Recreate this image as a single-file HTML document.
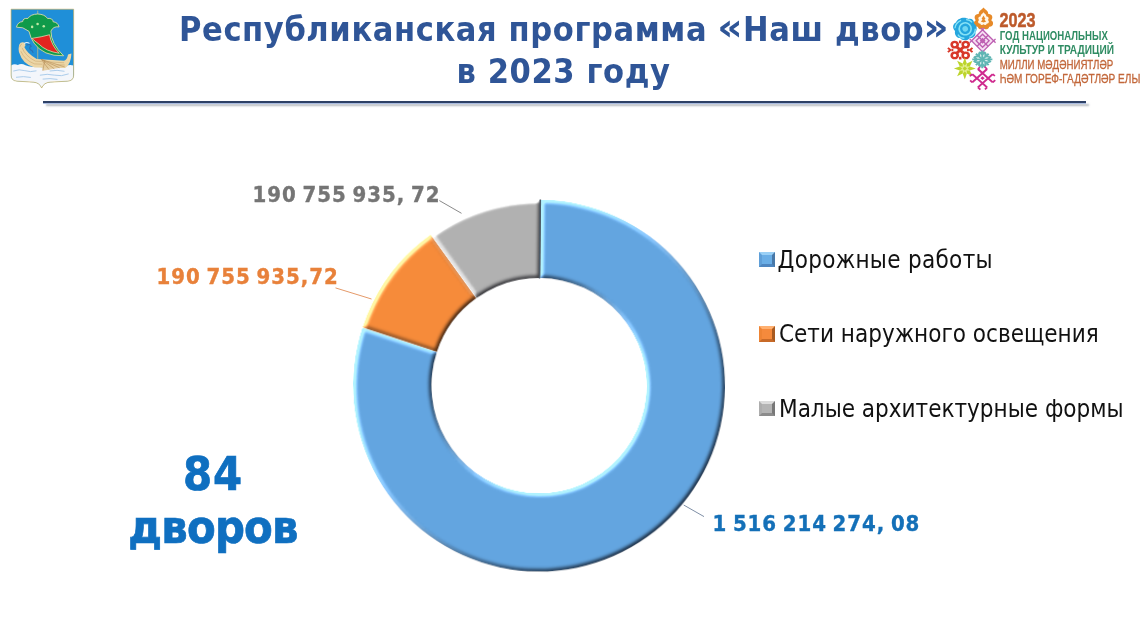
<!DOCTYPE html>
<html lang="ru">
<head>
<meta charset="utf-8">
<title>Республиканская программа «Наш двор» в 2023 году</title>
<style>
html,body{margin:0;padding:0;background:#fff;}
body{width:1142px;height:620px;position:relative;overflow:hidden;font-family:"Liberation Sans","DejaVu Sans",sans-serif;}
.abs{position:absolute;white-space:nowrap;}
.title{left:2px;width:1124px;text-align:center;color:#2f5597;font:bold 34px/40.5px "DejaVu Sans Condensed","DejaVu Sans","Liberation Sans",sans-serif;letter-spacing:0.6px;font-stretch:condensed;}
#t1{top:9px;}
.gq{display:inline-block;font-size:38px;line-height:0;position:relative;top:-0.6px;transform:scaleX(1.15);margin:0 1px;}
#t2{top:50.7px;left:1.5px;letter-spacing:0.6px;}
.hr{left:43px;top:100.6px;width:1043px;height:2.4px;background:#2e4166;box-shadow:0 1px 0 #a9bbe0, 3px 3px 2px rgba(120,130,140,.55);}
.lbl{-webkit-text-stroke:0.35px currentColor;letter-spacing:0.3px;font:bold 22px/24px "DejaVu Sans Condensed","DejaVu Sans","Liberation Sans",sans-serif;font-stretch:condensed;}
.leg{font:24px/28px "DejaVu Sans Condensed","DejaVu Sans","Liberation Sans",sans-serif;font-stretch:condensed;color:#111;}
.big{color:#0f6fc0;-webkit-text-stroke:0.7px #0f6fc0;font:bold 46.5px/54px "DejaVu Sans Condensed","DejaVu Sans","Liberation Sans",sans-serif;font-stretch:condensed;text-align:center;left:113px;width:200px;}
.mk{position:absolute;box-sizing:border-box;width:15.5px;height:15.5px;left:759px;border-style:solid;border-width:3px;}
svg{position:absolute;left:0;top:0;}
</style>
</head>
<body>
<div class="abs title" id="t1">Республиканская программа <span class="gq">«</span>Наш двор<span class="gq">»</span></div>
<div class="abs title" id="t2">в 2023 году</div>
<div class="abs hr"></div>

<svg id="chart" width="1142" height="620" viewBox="0 0 1142 620">
<defs>
<filter id="bev" x="-5%" y="-5%" width="110%" height="110%" color-interpolation-filters="sRGB">
<feGaussianBlur in="SourceAlpha" stdDeviation="2.2" result="b"/>
<feDiffuseLighting in="b" surfaceScale="3.2" diffuseConstant="1.4142" lighting-color="#ffffff" result="d1"><feDistantLight azimuth="225" elevation="45"/></feDiffuseLighting>
<feComponentTransfer in="d1" result="d1s"><feFuncR type="linear" slope="0.62" intercept="0.38"/><feFuncG type="linear" slope="0.62" intercept="0.38"/><feFuncB type="linear" slope="0.6" intercept="0.4"/></feComponentTransfer>
<feDiffuseLighting in="b" surfaceScale="6" diffuseConstant="1.4142" lighting-color="#ffffff" result="d2"><feDistantLight azimuth="45" elevation="45"/></feDiffuseLighting>
<feBlend in="SourceGraphic" in2="d1s" mode="multiply" result="m"/>
<feComposite in="m" in2="d2" operator="arithmetic" k1="0" k2="1" k3="-0.42" k4="0.42" result="a"/>
<feComposite in="a" in2="SourceAlpha" operator="in"/>
</filter>
<filter id="bevB" x="-5%" y="-5%" width="110%" height="110%" color-interpolation-filters="sRGB">
<feGaussianBlur in="SourceAlpha" stdDeviation="2.2" result="b"/>
<feDiffuseLighting in="b" surfaceScale="3.2" diffuseConstant="1.4142" lighting-color="#ffffff" result="d1"><feDistantLight azimuth="225" elevation="45"/></feDiffuseLighting>
<feComponentTransfer in="d1" result="d1s"><feFuncR type="linear" slope="0.62" intercept="0.38"/><feFuncG type="linear" slope="0.62" intercept="0.38"/><feFuncB type="linear" slope="0.6" intercept="0.4"/></feComponentTransfer>
<feDiffuseLighting in="b" surfaceScale="6" diffuseConstant="1.4142" lighting-color="#ffffff" result="d2"><feDistantLight azimuth="45" elevation="45"/></feDiffuseLighting>
<feBlend in="SourceGraphic" in2="d1s" mode="multiply" result="m"/>
<feComposite in="m" in2="d2" operator="arithmetic" k1="0" k2="1" k3="-0.3" k4="0.3" result="a"/>
<feComposite in="a" in2="SourceAlpha" operator="in"/>
</filter>
</defs>
<g transform="rotate(0.6 539 385.6)">
<path id="s0" d="M539.00 199.60A186.0 186.0 0 1 1 361.73 329.28L436.55 353.05A107.5 107.5 0 1 0 539.00 278.10Z" fill="#63a5e0" filter="url(#bevB)"/>
<path id="s1" d="M361.73 329.28A186.0 186.0 0 0 1 429.18 235.48L475.53 298.84A107.5 107.5 0 0 0 436.55 353.05Z" fill="#f68b3a" filter="url(#bev)"/>
<path id="s2" d="M429.18 235.48A186.0 186.0 0 0 1 539.00 199.60L539.00 278.10A107.5 107.5 0 0 0 475.53 298.84Z" fill="#b1b1b1" filter="url(#bev)"/>
<path d="M538.4 199.4V278.4" stroke="#4c5a68" stroke-width="1.5" fill="none"/>
</g>
<g fill="none" stroke-width="1">
<path d="M439.4 200.6L461.5 213.3" stroke="#8a8a8a"/>
<path d="M335.5 287.9L371.5 299" stroke="#e59a6a"/>
<path d="M683.7 505L704 516.6" stroke="#7f8fa6"/>
</g>
</svg>



<svg id="coat" width="1142" height="620" viewBox="0 0 1142 620">
<g transform="translate(8,5) scale(0.14027)">
<defs><clipPath id="shc"><path d="M22 30H468V500Q468 540 425 543L300 550Q255 553 240 592Q225 553 180 550L65 543Q22 540 22 500Z"/></clipPath></defs>
<path d="M22 30H468V500Q468 540 425 543L300 550Q255 553 240 592Q225 553 180 550L65 543Q22 540 22 500Z" fill="#1f8fd8"/>
<g clip-path="url(#shc)">
<path d="M22 432Q45 415 70 428Q95 412 125 430Q160 445 200 436Q260 450 320 442Q370 452 410 436Q440 422 468 432V600H22Z" fill="#f3f6fb"/>
<path d="M40 470Q80 455 120 468T200 470M230 500Q280 488 330 500T430 492M60 515Q110 505 160 516M300 470Q350 460 400 472M250 528Q300 520 350 530" fill="none" stroke="#a9cbea" stroke-width="7" stroke-linecap="round"/>
</g>
<path d="M212 40V405" stroke="#d9c27a" stroke-width="5"/>
<path d="M90 270Q108 258 122 274Q128 292 116 300Q140 350 205 385L400 398Q422 388 428 352L452 346Q450 420 408 450L190 446Q105 425 78 335Q70 290 90 270Z" fill="#ecd6a6"/>
<path d="M92 330Q120 395 190 420L405 428M100 305Q125 365 195 400L400 412M84 300Q88 280 100 278" fill="none" stroke="#c9a56e" stroke-width="4"/>
<path d="M238 388L405 442L248 468Z" fill="#e6cc9c" opacity="0.9"/>
<path d="M238 388L292 460M238 388L330 455M238 388L368 448M238 388L405 442M262 396L248 468" stroke="#b38a52" stroke-width="4" fill="none"/>
<path d="M135 285Q160 275 165 295Q150 300 158 318Q175 322 178 338" fill="none" stroke="#2b6fb3" stroke-width="8" stroke-linecap="round"/>
<path d="M118 272Q135 262 150 272" fill="none" stroke="#e8f2fb" stroke-width="8" stroke-linecap="round"/>
<path d="M60 158Q70 120 105 118Q105 92 142 96Q160 66 212 64Q262 66 282 96Q320 92 322 120Q355 122 364 156Q322 150 306 186Q306 275 396 362Q250 366 186 272Q160 236 150 188Q105 152 60 158Z" fill="#0f9a4a" stroke="#e6dfa4" stroke-width="6" stroke-linejoin="round"/>
<path d="M170 238Q240 228 296 212Q310 290 366 344Q270 330 222 280Q192 258 170 238Z" fill="#e2241f" stroke="#efe8c0" stroke-width="5" stroke-linejoin="round"/>
<g fill="#bfe9a4"><circle cx="172" cy="156" r="9"/><circle cx="211" cy="136" r="9"/><circle cx="255" cy="151" r="9"/></g>
<path d="M22 30H468V500Q468 540 425 543L300 550Q255 553 240 592Q225 553 180 550L65 543Q22 540 22 500Z" fill="none" stroke="#c8aa52" stroke-width="4.5"/>
</g>
</svg>

<svg id="logoR" width="1142" height="620" viewBox="0 0 1142 620" font-family="'Liberation Sans',sans-serif">

<g id="orn">
<g transform="translate(983.5,19.2) scale(0.96,0.93)">
<path d="M0 -12.5C2.5 -9.5 5 -9 5 -5.5C9 -6 10.5 -1.5 8 1C11.5 3 10 8.5 6 8C5 11.5 1.5 11.5 0 9.5C-1.5 11.5 -5 11.5 -6 8C-10 8.5 -11.5 3 -8 1C-10.5 -1.5 -9 -6 -5 -5.5C-5 -9 -2.5 -9.5 0 -12.5Z" fill="#e78a28"/>
<path d="M0 -7.5C1.5 -5.5 3 -5 3 -3C5.5 -3 6 -0.5 4.5 0.8C6.5 2 5.5 5 3.5 4.6C3 6.5 1 6.6 0 5.4C-1 6.6 -3 6.5 -3.5 4.6C-5.5 5 -6.5 2 -4.5 0.8C-6 -0.5 -5.5 -3 -3 -3C-3 -5 -1.5 -5.5 0 -7.5Z" fill="#fff7ea"/>
<path d="M0 -4L2 -0.5L1 0.5L2.8 2.6L0 3.6L-2.8 2.6L-1 0.5L-2 -0.5Z" fill="#e78a28"/>
</g>
<g transform="translate(965.2,28.8) rotate(-20)">
<path d="M-3 -11.2C2 -12.2 5 -10 6.5 -8C9.5 -8 11.3 -5 10.3 -2C12.2 1 11.3 5 8.5 6.5C8 10 4.5 11.8 1 10.3C-3 12.2 -7 10.3 -8 7C-11.3 5.5 -12.2 1.5 -10.3 -1.5C-12.2 -5 -10 -9 -6.5 -9C-5.5 -10.3 -4.5 -10.8 -3 -11.2Z" fill="#25a6de"/>
<circle r="6" fill="none" stroke="#86e2f6" stroke-width="1.6"/>
<circle r="2.8" fill="#6fd6f2"/>
<path d="M-9.5 -4Q-7 -9 -1 -9.3M9.5 3.5Q7.5 9 1 9.4M-8.8 3Q-8 7 -4 8.6M8.6 -3.6Q7.6 -7 4 -8.4" fill="none" stroke="#86e2f6" stroke-width="1.3"/>
</g>
<g transform="translate(982.6,40.8) rotate(45)" fill="none" stroke="#bd5fb2" stroke-width="1.35">
<rect x="-7.8" y="-7.8" width="15.6" height="15.6" fill="#f6def2"/>
<rect x="-4.6" y="-4.6" width="9.2" height="9.2"/>
<path d="M-7.8 0H7.8M0 -7.8V7.8"/>
<rect x="-1.4" y="-1.4" width="2.8" height="2.8" fill="#c463b4"/>
<path d="M-7.8 -10.5V-7.8H-10.5M7.8 -10.5V-7.8H10.5M-7.8 10.5V7.8H-10.5M7.8 10.5V7.8H10.5"/>
</g>
<g transform="translate(960.2,50) scale(1.04,0.96)" fill="none" stroke="#d8382a" stroke-width="2.5">
<circle cx="-5.3" cy="-5.6" r="2.9"/><circle cx="5.3" cy="-5.6" r="2.9"/><circle cx="-5.3" cy="5.6" r="2.9"/><circle cx="5.3" cy="5.6" r="2.9"/>
<path d="M-3.4 -3.4L3.4 3.4M3.4 -3.4L-3.4 3.4" stroke-width="2.8"/>
<path d="M0 -9.8V-7M0 9.8V7M-8.4 0H-6.6M8.4 0H6.6" stroke-width="2.4"/>
<path d="M-11.8 -2.2L-9.4 0L-11.8 2.2M11.8 -2.2L9.4 0L11.8 2.2" stroke-width="1.9"/>
<rect x="-1.7" y="-1.7" width="3.4" height="3.4" transform="rotate(45)" fill="#d8382a" stroke="none"/>
</g>
<g transform="translate(982.3,59.4) scale(1.06,0.94)" fill="none" stroke="#5fb6b4" stroke-width="2" stroke-linecap="square"><g transform="rotate(0)"><path d="M0 0V-8.5M-2.2 -7.3L0 -5.1L2.2 -7.3"/></g><g transform="rotate(45)"><path d="M0 0V-7.5M-2.2 -6.3L0 -4.1L2.2 -6.3"/></g><g transform="rotate(90)"><path d="M0 0V-8.5M-2.2 -7.3L0 -5.1L2.2 -7.3"/></g><g transform="rotate(135)"><path d="M0 0V-7.5M-2.2 -6.3L0 -4.1L2.2 -6.3"/></g><g transform="rotate(180)"><path d="M0 0V-8.5M-2.2 -7.3L0 -5.1L2.2 -7.3"/></g><g transform="rotate(225)"><path d="M0 0V-7.5M-2.2 -6.3L0 -4.1L2.2 -6.3"/></g><g transform="rotate(270)"><path d="M0 0V-8.5M-2.2 -7.3L0 -5.1L2.2 -7.3"/></g><g transform="rotate(315)"><path d="M0 0V-7.5M-2.2 -6.3L0 -4.1L2.2 -6.3"/></g></g>
<g transform="translate(964.8,68.5) scale(1.04)">
<polygon points="0.00,-10.50 1.99,-4.80 7.42,-7.42 4.80,-1.99 10.50,-0.00 4.80,1.99 7.42,7.42 1.99,4.80 0.00,10.50 -1.99,4.80 -7.42,7.42 -4.80,1.99 -10.50,0.00 -4.80,-1.99 -7.42,-7.42 -1.99,-4.80" fill="#bcd42c"/>
<polygon points="2.14,-5.17 1.84,-1.84 5.17,-2.14 2.60,-0.00 5.17,2.14 1.84,1.84 2.14,5.17 0.00,2.60 -2.14,5.17 -1.84,1.84 -5.17,2.14 -2.60,0.00 -5.17,-2.14 -1.84,-1.84 -2.14,-5.17 -0.00,-2.60" fill="#e3ee8e"/>
<rect x="-1.5" y="-1.5" width="3" height="3" fill="#bcd42c" transform="rotate(45)"/>
</g>
<g transform="translate(982.5,78.2) scale(1,0.9) rotate(45)" fill="none" stroke="#cf2a8e" stroke-width="2.1">
<path d="M-4 -10.5V10.5M4 -10.5V10.5M-10.5 -4H10.5M-10.5 4H10.5"/>
<path d="M-4 -10.5H-7.5M4 10.5H7.5M10.5 -4V-7.5M-10.5 4V7.5M4 -10.5H7M-4 10.5H-7M10.5 4V7M-10.5 -4V-7" stroke-width="1.8"/>
<rect x="-1.5" y="-1.5" width="3" height="3" fill="#cf2a8e" stroke="none"/>
</g>
</g>
<g font-weight="bold" stroke-width="0.25">
<text x="999.6" y="26.9" font-size="20.2" fill="#bd5a2b" stroke="#bd5a2b" stroke-width="0.5" textLength="36" lengthAdjust="spacingAndGlyphs">2023</text>
<text x="999.8" y="39.6" font-size="12.2" fill="#2f8c63" textLength="108" lengthAdjust="spacingAndGlyphs">ГОД НАЦИОНАЛЬНЫХ</text>
<text x="999.8" y="53.7" font-size="12.2" fill="#2f8c63" textLength="114.2" lengthAdjust="spacingAndGlyphs">КУЛЬТУР И ТРАДИЦИЙ</text>
</g>
<g fill="#c2673a" stroke="#c2673a" stroke-width="0.3">
<text x="999.8" y="69.2" font-size="12" textLength="113.4" lengthAdjust="spacingAndGlyphs">МИЛЛИ МӘДӘНИЯТЛӘР</text>
<text x="999.8" y="82.5" font-size="12" textLength="140.5" lengthAdjust="spacingAndGlyphs">ҺӘМ ГОРЕФ-ГАДӘТЛӘР ЕЛЫ</text>
</g>
</svg>

<div class="abs lbl" id="l1" style="left:252.5px;top:182.7px;letter-spacing:1px;word-spacing:-2.2px;color:#757575;">190 755 935, 72</div>
<div class="abs lbl" id="l2" style="left:156.5px;top:265.3px;letter-spacing:1px;word-spacing:-2.2px;color:#e8813a;">190 755 935,72</div>
<div class="abs lbl" id="l3" style="left:712.5px;top:511.8px;letter-spacing:0.96px;word-spacing:-2.2px;color:#1470b8;">1 516 214 274, 08</div>

<div class="abs leg" id="g1" style="left:777.5px;top:246px;letter-spacing:0.3px;">Дорожные работы</div>
<div class="abs leg" id="g2" style="left:779px;top:319.8px;">Сети наружного освещения</div>
<div class="abs leg" id="g3" style="left:779px;top:394.5px;">Малые архитектурные формы</div>
<div class="mk" style="top:251.5px;background:#6aaee6;border-color:#9ad0f6 #4878a8 #4e86c0 #5f9fd8;"></div>
<div class="mk" style="top:326.1px;background:#f58a3c;border-color:#ffb070 #a85a20 #c86a28 #ee8434;"></div>
<div class="mk" style="top:400.7px;background:#b4b4b4;border-color:#dcdcdc #787878 #8c8c8c #adadad;"></div>

<div class="abs big" id="b1" style="top:447.3px;letter-spacing:1px;">84</div>
<div class="abs big" id="b2" style="top:500px;letter-spacing:-0.8px;">дворов</div>
</body>
</html>
